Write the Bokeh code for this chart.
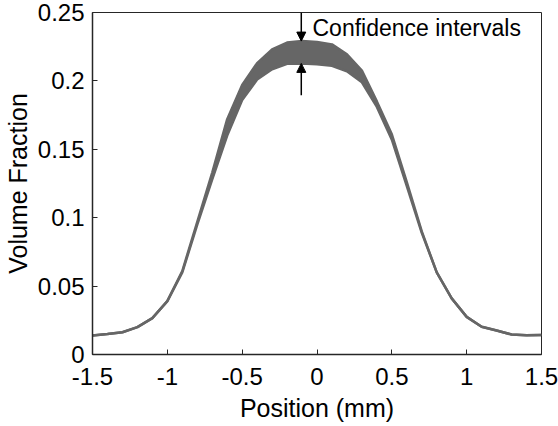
from bokeh.plotting import figure
from bokeh.models import Range1d, FixedTicker, Arrow, NormalHead, Label
from bokeh.embed import file_html
from bokeh.resources import INLINE

# Data
position = [-1.5, -1.4, -1.3, -1.2, -1.1, -1.0, -0.9, -0.8, -0.7, -0.6, -0.5,
            -0.4, -0.3, -0.2, -0.1, 0.0, 0.1, 0.2, 0.3, 0.4, 0.5,
            0.6, 0.7, 0.8, 0.9, 1.0, 1.1, 1.2, 1.3, 1.4, 1.5]
lower = [0.0139, 0.0150, 0.0163, 0.0200, 0.0266, 0.0390, 0.0600, 0.0950, 0.1280, 0.1600, 0.1860,
         0.2010, 0.2085, 0.2125, 0.2128, 0.2122, 0.2110, 0.2070, 0.1990, 0.1810, 0.1570,
         0.1230, 0.0890, 0.0600, 0.0410, 0.0275, 0.0203, 0.0175, 0.0146, 0.0141, 0.0143]
upper = [0.0139, 0.0150, 0.0163, 0.0200, 0.0266, 0.0390, 0.0610, 0.0970, 0.1330, 0.1720, 0.1970,
         0.2130, 0.2230, 0.2280, 0.2291, 0.2285, 0.2267, 0.2195, 0.2075, 0.1850, 0.1610,
         0.1260, 0.0900, 0.0600, 0.0410, 0.0275, 0.0203, 0.0175, 0.0146, 0.0141, 0.0143]

x_ticks = [-1.5, -1.0, -0.5, 0.0, 0.5, 1.0, 1.5]
x_tick_labels = ["-1.5", "-1", "-0.5", "0", "0.5", "1", "1.5"]
y_ticks = [0.0, 0.05, 0.1, 0.15, 0.2, 0.25]
y_tick_labels = ["0", "0.05", "0.1", "0.15", "0.2", "0.25"]

annotation_text = "Confidence intervals"
arrow_x = -0.105
down_arrow_y = (0.25, 0.2291)
up_arrow_y = (0.1896, 0.2128)
label_pos = (-0.03, 0.2387)

FONT = "Liberation Sans"
AXIS_COLOR = "#262626"
BAND_COLOR = "#666666"

p = figure(width=558, height=426, output_backend="svg", toolbar_location=None,
           x_range=Range1d(-1.5, 1.5), y_range=Range1d(0, 0.25),
           min_border_left=92, min_border_right=17, min_border_top=12, min_border_bottom=72)
p.background_fill_color = "white"
p.border_fill_color = "white"
p.outline_line_color = AXIS_COLOR
p.outline_line_width = 1
p.grid.visible = False

p.varea(x=position, y1=lower, y2=upper, fill_color=BAND_COLOR, fill_alpha=1.0)
p.line(position, lower, line_color=BAND_COLOR, line_width=2.5)
p.line(position, upper, line_color=BAND_COLOR, line_width=2.5)

head_style = dict(size=9, fill_color="black", line_color="black")
p.add_layout(Arrow(end=NormalHead(**head_style), x_start=arrow_x, y_start=down_arrow_y[0],
                   x_end=arrow_x, y_end=down_arrow_y[1], line_color="black", line_width=1.5))
p.add_layout(Arrow(end=NormalHead(**head_style), x_start=arrow_x, y_start=up_arrow_y[0],
                   x_end=arrow_x, y_end=up_arrow_y[1], line_color="black", line_width=1.5))
p.add_layout(Label(x=label_pos[0], y=label_pos[1], text=annotation_text, text_baseline="middle",
                   text_align="left", text_font=FONT, text_font_size="23px", text_color="black"))

xa = p.xaxis[0]
xa.ticker = FixedTicker(ticks=x_ticks)
xa.major_label_overrides = {t: l for t, l in zip(x_ticks, x_tick_labels)}
xa.axis_label = "Position (mm)"
ya = p.yaxis[0]
ya.ticker = FixedTicker(ticks=y_ticks)
ya.major_label_overrides = {t: l for t, l in zip(y_ticks, y_tick_labels)}
ya.axis_label = "Volume Fraction"

for ax in (xa, ya):
    ax.axis_line_color = AXIS_COLOR
    ax.axis_line_width = 1.5
    ax.major_tick_line_color = AXIS_COLOR
    ax.major_tick_in = 5
    ax.major_tick_out = 0
    ax.minor_tick_line_color = None
    ax.major_label_text_font = FONT
    ax.major_label_text_font_size = "24px"
    ax.major_label_text_color = "black"
    ax.axis_label_text_font = FONT
    ax.axis_label_text_font_size = "25px"
    ax.axis_label_text_font_style = "normal"
    ax.axis_label_text_color = "black"
xa.major_label_standoff = 13
xa.axis_label_standoff = 6
ya.major_label_standoff = 8
ya.axis_label_standoff = 3

open("out.html", "w").write(file_html(p, INLINE))
